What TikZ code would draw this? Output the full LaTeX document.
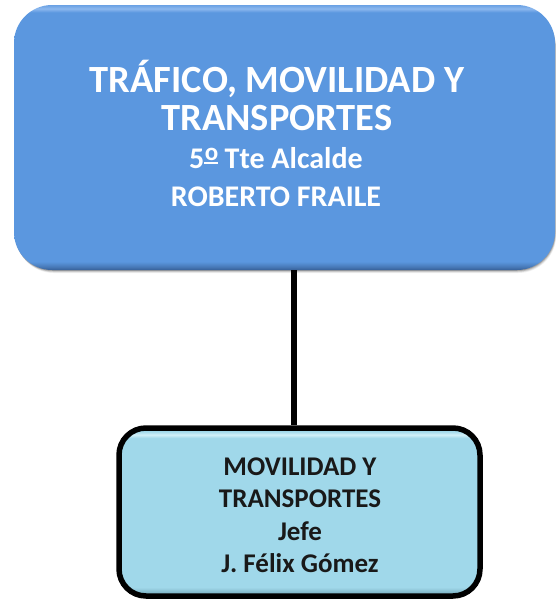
\documentclass[tikz,border=0pt]{standalone}
\usepackage{fontspec}
\setmainfont{Carlito}
\definecolor{topblue}{HTML}{5B97DF}
\definecolor{topdark}{HTML}{365F96}
\definecolor{toplight}{HTML}{8CB8EE}
\definecolor{botblue}{HTML}{A0D8EA}
\definecolor{botdark}{HTML}{6A9FB0}
\definecolor{botlight}{HTML}{D2F0F8}
\pgfdeclareverticalshading{topbevel}{100bp}{color(0bp)=(topdark); color(25bp)=(topdark); color(25.6bp)=(topdark!55!topblue); color(26.6bp)=(topblue); color(73.6bp)=(topblue); color(74.3bp)=(toplight); color(75bp)=(topblue!70!toplight); color(100bp)=(topblue)}
\pgfdeclareverticalshading{botbevel}{100bp}{color(0bp)=(botdark); color(25bp)=(botdark); color(26bp)=(botdark!60!botblue); color(27.6bp)=(botblue); color(72bp)=(botblue); color(73bp)=(botlight); color(74bp)=(botblue); color(100bp)=(botblue)}
\newcommand{\ordo}{\raisebox{7.6pt}{\fontsize{25}{25}\selectfont\rlap{\kern0.5pt o}}\rule[4.4pt]{13.5pt}{2pt}}
\begin{document}
\begin{tikzpicture}[x=1pt,y=-1pt,
  topbox/.style={rounded corners=38pt, minimum width=541pt, minimum height=265pt, inner sep=0pt, shading=topbevel},
  botbox/.style={rounded corners=27pt, minimum width=361pt, minimum height=168pt, inner sep=0pt, shading=botbevel, draw=black, line width=5.5pt},
  conn/.style={line width=6pt, black},
  toptext/.style={text=white, anchor=base},
  bottext/.style={text=black!90, anchor=base}]
\useasboundingbox (0,0) rectangle (556,600);
% top box shadow
\foreach \o/\a in {6/0.06,4.5/0.09,3/0.13,1.5/0.18}{
  \fill[black, opacity=\a, rounded corners=38pt] (14+\o*0.3,5+\o) rectangle (555+\o*0.2,270+\o*0.5);
}
\node[topbox] (top) at (284.5,137.5) {};
% bottom box
\node[botbox] (bot) at (299.5,512) {};
% connector
\coordinate (c1) at (293.7,270);
\draw[conn] (top.south -| c1) -- (bot.north -| c1);
% texts
\node[toptext, font=\bfseries\fontsize{38.5}{40}\selectfont] (t1) at (277,92) {TRÁFICO, MOVILIDAD Y};
\node[toptext, font=\bfseries\fontsize{38.5}{40}\selectfont] (t2) at (277,130) {TRANSPORTES};
\node[toptext, font=\bfseries\fontsize{30}{34}\selectfont] (t3) at (276,168) {5\ordo{} Tte Alcalde};
\node[toptext, font=\bfseries\fontsize{30}{34}\selectfont] (t4) at (276,206) {ROBERTO FRAILE};
\node[bottext, font=\bfseries\fontsize{27}{30}\selectfont] (b1) at (300,475) {MOVILIDAD Y};
\node[bottext, font=\bfseries\fontsize{27}{30}\selectfont] (b2) at (300,507) {TRANSPORTES};
\node[bottext, font=\bfseries\fontsize{27}{30}\selectfont] (b3) at (300,540) {Jefe};
\node[bottext, font=\bfseries\fontsize{27}{30}\selectfont] (b4) at (300,572) {J. Félix Gómez};
\end{tikzpicture}
\end{document}
